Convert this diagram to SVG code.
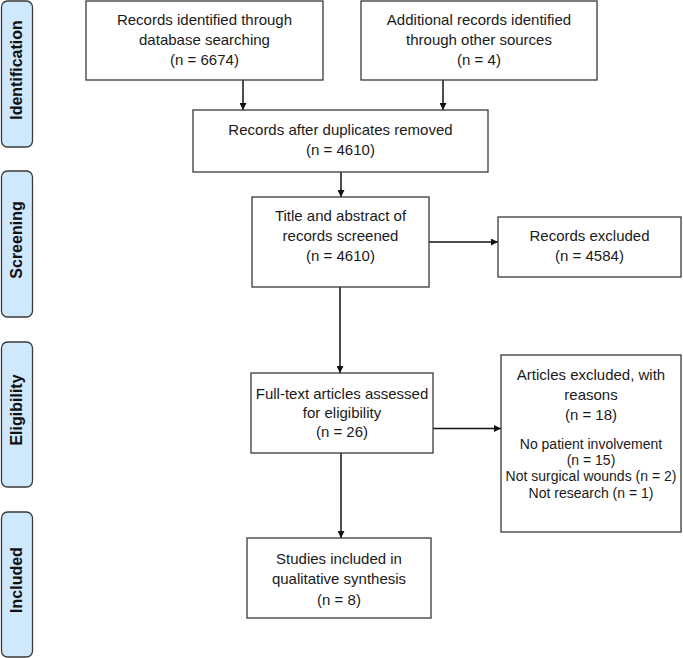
<svg xmlns="http://www.w3.org/2000/svg" width="683" height="658" viewBox="0 0 683 658">
<defs>
<style>
.box{fill:#fff;stroke:#3a3a3a;stroke-width:1.3}
.side{fill:#cfe8fb;stroke:#3a3a3a;stroke-width:1.3}
.t{font-family:"Liberation Sans",Arial,sans-serif;font-size:15px;fill:#1a1a1a;text-anchor:middle}
.s{font-size:14px}
.st{font-family:"Liberation Sans",Arial,sans-serif;font-size:16px;font-weight:bold;fill:#111;text-anchor:middle}
.c{stroke:#111;stroke-width:1.5;fill:none;marker-end:url(#ah)}
</style>
<marker id="ah" viewBox="0 0 10 10" refX="10" refY="5" markerWidth="7" markerHeight="7" markerUnits="userSpaceOnUse" orient="auto"><path d="M0,0 L10,5 L0,10 z" fill="#111"/></marker>
</defs>
<rect width="683" height="658" fill="#fff"/>
<g id="side-identification"><rect class="side" x="1.5" y="1" width="31" height="146" rx="6"/><text class="st" transform="translate(22,70) rotate(-90)">Identification</text></g>
<g id="side-screening"><rect class="side" x="1.5" y="171" width="31" height="146" rx="6"/><text class="st" transform="translate(22,240) rotate(-90)">Screening</text></g>
<g id="side-eligibility"><rect class="side" x="1.5" y="342" width="31" height="145" rx="6"/><text class="st" transform="translate(22,410) rotate(-90)">Eligibility</text></g>
<g id="side-included"><rect class="side" x="1.5" y="512" width="31" height="145" rx="6"/><text class="st" transform="translate(22,580) rotate(-90)">Included</text></g>
<g id="connectors">
<line class="c" x1="243" y1="80" x2="243" y2="110"/>
<line class="c" x1="443" y1="80" x2="443" y2="110"/>
<line class="c" x1="341" y1="172" x2="341" y2="197"/>
<line class="c" x1="429" y1="242" x2="498" y2="242"/>
<line class="c" x1="340" y1="287" x2="340" y2="373"/>
<line class="c" x1="433" y1="428.5" x2="501" y2="428.5"/>
<line class="c" x1="341" y1="453" x2="341" y2="538"/>
</g>
<g id="n-database"><rect class="box" x="86" y="1" width="237" height="79"/><text class="t" x="204.5" y="25">Records identified through</text><text class="t" x="204.5" y="45">database searching</text><text class="t" x="204.5" y="65">(n = 6674)</text></g>
<g id="n-other"><rect class="box" x="361" y="1" width="236" height="79"/><text class="t" x="479" y="25">Additional records identified</text><text class="t" x="479" y="45">through other sources</text><text class="t" x="479" y="65">(n = 4)</text></g>
<g id="n-dedup"><rect class="box" x="193" y="110" width="295" height="62"/><text class="t" x="340.5" y="135">Records after duplicates removed</text><text class="t" x="340.5" y="155">(n = 4610)</text></g>
<g id="n-screened"><rect class="box" x="252" y="197" width="177" height="90"/><text class="t" x="340.5" y="221">Title and abstract of</text><text class="t" x="340.5" y="241">records screened</text><text class="t" x="340.5" y="261">(n = 4610)</text></g>
<g id="n-excluded"><rect class="box" x="498" y="217" width="183" height="60"/><text class="t" x="589.5" y="241">Records excluded</text><text class="t" x="589.5" y="261">(n = 4584)</text></g>
<g id="n-fulltext"><rect class="box" x="251" y="373" width="182" height="80"/><text class="t" x="342" y="399">Full-text articles assessed</text><text class="t" x="342" y="418">for eligibility</text><text class="t" x="342" y="437">(n = 26)</text></g>
<g id="n-artexcl"><rect class="box" x="501" y="355" width="180" height="177"/><text class="t" x="591" y="380">Articles excluded, with</text><text class="t" x="591" y="400">reasons</text><text class="t" x="591" y="420">(n = 18)</text><text class="t s" x="591" y="449">No patient involvement</text><text class="t s" x="591" y="465">(n = 15)</text><text class="t s" x="591" y="481">Not surgical wounds (n = 2)</text><text class="t s" x="591" y="498">Not research (n = 1)</text></g>
<g id="n-included"><rect class="box" x="247" y="538" width="184" height="80"/><text class="t" x="339" y="564">Studies included in</text><text class="t" x="339" y="584">qualitative synthesis</text><text class="t" x="339" y="605">(n = 8)</text></g>
</svg>
